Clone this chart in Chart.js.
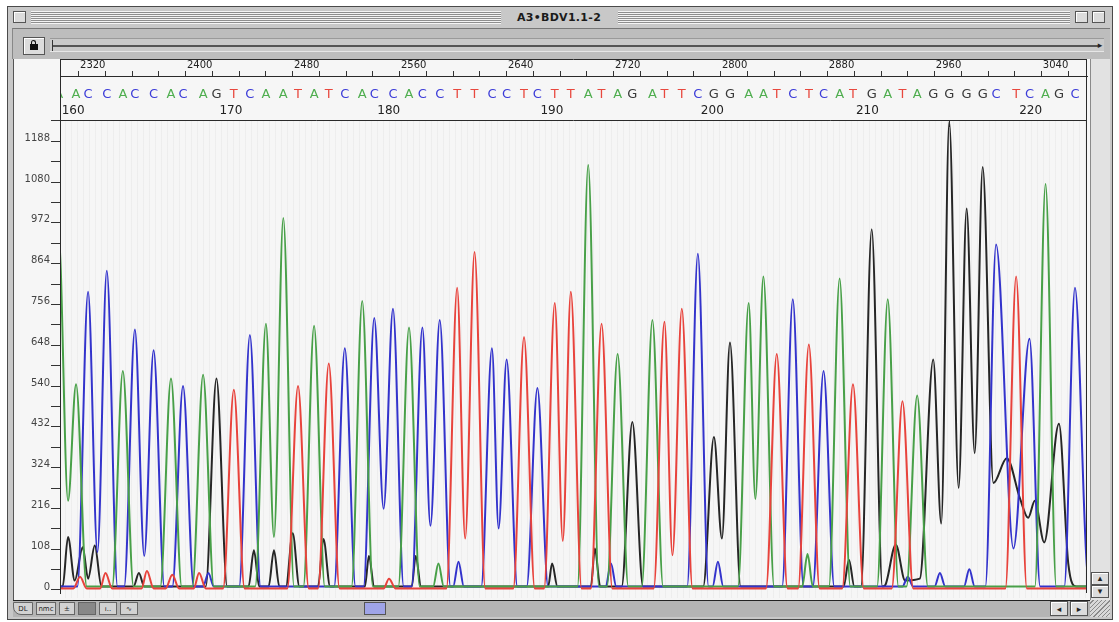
<!DOCTYPE html>
<html>
<head>
<meta charset="utf-8">
<title>A3•BDV1.1-2</title>
<script src="https://cdn.jsdelivr.net/npm/chart.js@4.4.1/dist/chart.umd.min.js"></script>
<style>
  html,body{margin:0;padding:0;width:1119px;height:622px;overflow:hidden;background:#fff;font-family:"DejaVu Sans",sans-serif}
  .abs{position:absolute;box-sizing:border-box}
  #win{left:7px;top:6px;width:1106px;height:614px;background:#c8c8c8;border:1px solid #4a4a4a}
  .stripes{background:repeating-linear-gradient(to bottom,#f4f4f4 0 1px,#8e8e8e 1px 2px)}
  .box{background:#dcdcdc;border:1px solid #555;box-shadow:inset 1px 1px 0 #fff}
  #title{left:502px;top:9px;width:114px;text-align:center;font:bold 11px "DejaVu Sans",sans-serif;color:#1a1a1a;line-height:17px;letter-spacing:0.3px}
  #toolbar{left:12px;top:28px;width:1098px;height:31px;background:#bdbdbd;border-top:1px solid #777;border-left:1px solid #888}
  #lock{left:23px;top:37px;width:22px;height:18px}
  #track{left:50px;top:38px;width:1054px;height:14px;background:#c9c9c9;border-top:1px solid #9a9a9a;border-bottom:1px solid #e6e6e6}
  #panel{left:13px;top:59px;width:1077px;height:541px;background:#f6f6f6;border-left:1px solid #555}
  #stripe{left:60px;top:120px;width:1027px;height:478px;background:repeating-linear-gradient(90deg,rgba(0,0,0,0) 0 5px,rgba(0,0,0,0.035) 5px 6px)}
  #vscroll{left:1090px;top:59px;width:20px;height:541px;background:#e2e2e2;border-left:1px solid #8a8a8a}
  #hscroll{left:13px;top:600px;width:1077px;height:17px;background:#b4b4b4;border-top:1px solid #222}
  .btn{height:13px;top:602px;background:#d2d2d2;border:1px solid #666;font:7px "DejaVu Sans",sans-serif;color:#222;text-align:center;line-height:12px}
  .arr{font:9px "DejaVu Sans",sans-serif;color:#222;text-align:center;line-height:14px}
  #chartWrap{left:14px;top:59px;width:1076px;height:541px}
</style>
</head>
<body>
<div id="win" class="abs"></div>
<div class="abs box" style="left:13px;top:11px;width:13px;height:12px"></div>
<div class="abs stripes" style="left:31px;top:11px;width:470px;height:13px"></div>
<div id="title" class="abs">A3•BDV1.1-2</div>
<div class="abs stripes" style="left:618px;top:11px;width:452px;height:13px"></div>
<div class="abs box" style="left:1075px;top:11px;width:13px;height:12px"></div>
<div class="abs box" style="left:1092px;top:11px;width:13px;height:12px"></div>

<div id="toolbar" class="abs"></div>
<div id="lock" class="abs box"></div>
<div class="abs" style="left:30px;top:44px;width:8px;height:6px;background:#111"></div>
<div class="abs" style="left:31px;top:40px;width:5px;height:5px;border:1px solid #111;border-bottom:none;border-radius:3px 3px 0 0"></div>
<div id="track" class="abs"></div>
<div class="abs" style="left:52px;top:45px;width:1046px;height:2px;background:#555"></div>
<div class="abs" style="left:52px;top:40px;width:1px;height:11px;background:#333"></div>
<div class="abs arr" style="left:1096px;top:38px;width:8px">▸</div>

<div id="panel" class="abs"></div>
<div id="stripe" class="abs"></div>
<div id="vscroll" class="abs"></div>
<div class="abs arr box" style="left:1091px;top:572px;width:18px;height:13px;line-height:11px">▴</div>
<div class="abs arr box" style="left:1091px;top:585px;width:18px;height:13px;line-height:11px">▾</div>

<div id="hscroll" class="abs"></div>
<div class="abs btn" style="left:13px;width:20px;border-radius:0 0 0 8px">DL</div>
<div class="abs btn" style="left:36px;width:20px">nmc</div>
<div class="abs btn" style="left:59px;width:16px">±</div>
<div class="abs btn" style="left:78px;width:18px;background:#888"></div>
<div class="abs btn" style="left:99px;width:18px">ı..</div>
<div class="abs btn" style="left:120px;width:18px">∿</div>
<div class="abs" style="left:364px;top:602px;width:22px;height:13px;background:#9fa4e8;border:1px solid #555"></div>
<div class="abs arr box" style="left:1050px;top:601px;width:18px;height:15px">◂</div>
<div class="abs arr box" style="left:1070px;top:601px;width:18px;height:15px">▸</div>
<div class="abs" style="left:1090px;top:600px;width:20px;height:17px;background:repeating-linear-gradient(135deg,#d8d8d8 0 2px,#8a8a8a 2px 3px)"></div>

<div id="chartWrap" class="abs"><canvas id="trace" width="1076" height="541"></canvas></div>

<script>
// Scan range and axis labels
const scanMin = 2286, scanMax = 3054;
const rulerLabels = [2320, 2400, 2480, 2560, 2640, 2720, 2800, 2880, 2960, 3040];
const rulerStep = 20;
const yLabels = [0, 108, 216, 324, 432, 540, 648, 756, 864, 972, 1080, 1188];
const yMinorStep = 54;

// Base calls, first one is base 160
const firstBase = 160;
const baseCalls = "AACCACCACAGTCAATATCACCACCTTCCTCTTATAGATTCGGAATCTCATGATAGGGGCTCAGC";
const baseScans = [
  2285, 2298, 2307, 2321, 2333, 2342, 2356, 2369, 2378, 2393,
  2403, 2416, 2428, 2440, 2453, 2464, 2476, 2487, 2499, 2512,
  2521, 2535, 2547, 2557, 2570, 2583, 2596, 2609, 2620, 2633,
  2643, 2656, 2668, 2681, 2691, 2703, 2714, 2729, 2738, 2751,
  2763, 2775, 2787, 2801, 2812, 2822, 2834, 2846, 2857, 2869,
  2879, 2893, 2905, 2916, 2927, 2939, 2951, 2964, 2976, 2986,
  3001, 3011, 3023, 3033, 3045
];
const cursorScan = 2951;

// Traces as [scan, signal]
const traceA = [
  [2278,420],[2285,940],[2292,236],[2298,545],[2306,9],
  [2325,9],[2333,580],[2341,9],
  [2361,9],[2369,560],[2377,9],
  [2385,9],[2393,570],[2401,9],
  [2432,9],[2440,705],[2446,140],[2453,985],[2461,9],
  [2468,9],[2476,700],[2484,9],
  [2504,9],[2512,765],[2520,9],
  [2539,9],[2547,695],[2555,9],
  [2565,9],[2569,70],[2573,9],
  [2673,9],[2681,1125],[2689,9],
  [2695,9],[2703,625],[2711,9],
  [2721,9],[2729,715],[2737,9],
  [2793,9],[2801,760],[2806,241],[2812,830],[2820,9],
  [2841,9],[2845,95],[2849,9],
  [2861,9],[2869,825],[2877,9],
  [2897,9],[2905,770],[2913,9],
  [2919,9],[2927,515],[2935,9],
  [3015,9],[3023,1075],[3031,9],
  [3060,9]
];
const traceC = [
  [2280,9],[2299,9],[2307,790],[2314,100],[2321,845],[2329,9],
  [2334,9],[2342,690],[2349,90],[2356,635],[2364,9],
  [2370,9],[2378,540],[2386,9],
  [2393,9],[2397,45],[2401,9],
  [2420,9],[2428,675],[2436,9],
  [2491,9],[2499,640],[2507,9],
  [2513,9],[2521,720],[2528,215],[2535,745],[2543,9],
  [2549,9],[2557,695],[2563,170],[2570,715],[2578,9],
  [2580,9],[2584,75],[2588,9],
  [2601,9],[2609,640],[2614,163],[2620,610],[2628,9],
  [2635,9],[2643,535],[2651,9],
  [2694,9],[2698,70],[2702,9],
  [2755,9],[2763,890],[2771,9],
  [2774,9],[2778,75],[2782,9],
  [2826,9],[2834,770],[2842,9],
  [2849,9],[2857,580],[2865,9],
  [2916,9],[2920,35],[2924,9],
  [2940,9],[2944,45],[2948,9],
  [2962,9],[2966,55],[2970,9],
  [2978,9],[2986,915],[2999,110],[3011,665],[3019,9],
  [3037,9],[3045,800],[3054,60],[3058,9]
];
const traceG = [
  [2280,9],[2288,9],[2292,140],[2297,25],[2303,113],[2307,30],[2312,118],[2317,9],
  [2341,9],[2345,45],[2349,9],
  [2395,9],[2403,560],[2411,9],
  [2427,9],[2431,105],[2435,9],
  [2442,9],[2446,105],[2450,9],
  [2455,9],[2460,150],[2465,9],
  [2479,9],[2483,135],[2488,9],
  [2514,9],[2517,90],[2521,9],
  [2549,9],[2552,90],[2556,9],
  [2651,9],[2654,70],[2658,9],
  [2683,9],[2686,110],[2690,9],
  [2706,9],[2714,445],[2722,9],
  [2767,9],[2775,405],[2781,136],[2787,655],[2795,9],
  [2872,9],[2876,80],[2880,9],
  [2885,9],[2893,955],[2901,9],
  [2903,12],[2911,120],[2918,25],
  [2929,30],[2939,610],[2945,176],[2951,1240],[2958,270],[2964,1010],[2970,362],[2976,1120],
  [2984,283],[2994,349],[3004,241],[3010,191],[3015,236],[3022,126],[3033,440],[3040,70],[3046,9],
  [3060,9]
];
const traceT = [
  [2280,4],[2296,4],[2301,35],[2306,4],[2316,4],[2320,45],[2325,4],
  [2347,4],[2351,50],[2356,4],[2365,4],[2370,40],[2375,4],[2386,4],[2390,45],[2395,4],
  [2408,4],[2416,530],[2424,4],
  [2456,4],[2464,540],[2472,4],
  [2479,4],[2487,600],[2495,4],
  [2528,4],[2532,30],[2537,4],
  [2575,4],[2583,800],[2589,136],[2596,895],[2604,4],
  [2625,4],[2633,670],[2641,4],
  [2648,4],[2656,760],[2662,130],[2668,790],[2676,4],
  [2683,4],[2691,705],[2699,4],
  [2730,4],[2738,710],[2744,92],[2751,745],[2759,4],
  [2814,4],[2822,625],[2830,4],
  [2838,4],[2846,650],[2854,4],
  [2871,4],[2879,545],[2887,4],
  [2908,4],[2916,500],[2924,4],
  [2993,4],[3001,830],[3009,4],
  [3060,4]
];

const traceColors = { A: "#48a048", C: "#3333cc", G: "#262626", T: "#e8433c" };
const letterColors = { A: "#4fae4f", C: "#3b3bd8", G: "#3a3a3a", T: "#e8483e" };
const seqRowHeight = 44;
const uiFont = '"DejaVu Sans", sans-serif';

const seqRow = {
  id: "seqRow",
  afterDraw(chart) {
    const { ctx, chartArea: ca, scales: { x } } = chart;
    ctx.save();
    ctx.fillStyle = "#f6f6f6";
    ctx.fillRect(ca.left + 1, ca.top + 1, ca.right - ca.left - 2, seqRowHeight - 1);
    ctx.beginPath();
    ctx.rect(ca.left + 1, ca.top, ca.right - ca.left - 2, seqRowHeight);
    ctx.clip();
    ctx.font = "13px " + uiFont;
    ctx.textAlign = "center";
    ctx.textBaseline = "middle";
    [...baseCalls].forEach((b, i) => {
      ctx.fillStyle = letterColors[b];
      ctx.fillText(b, x.getPixelForValue(baseScans[i]), ca.top + 19);
    });
    ctx.font = "12px " + uiFont;
    ctx.textAlign = "left";
    ctx.fillStyle = "#222";
    baseScans.forEach((s, i) => {
      const n = firstBase + i;
      if (n % 10 === 0) ctx.fillText(String(n), x.getPixelForValue(s) + 3, ca.top + 35);
    });
    ctx.restore();

    // frame + separator + cursor
    ctx.save();
    ctx.strokeStyle = "#2a2a2a";
    ctx.lineWidth = 1;
    ctx.beginPath();
    ctx.moveTo(ca.left + 0.5, 0.5); ctx.lineTo(ca.right - 0.5, 0.5);
    ctx.moveTo(ca.left + 0.5, 0); ctx.lineTo(ca.left + 0.5, ca.bottom);
    ctx.moveTo(ca.right - 0.5, 0); ctx.lineTo(ca.right - 0.5, ca.bottom);
    ctx.moveTo(ca.left, ca.top + seqRowHeight + 0.5); ctx.lineTo(ca.right, ca.top + seqRowHeight + 0.5);
    const cx = Math.round(x.getPixelForValue(cursorScan)) + 0.5;
    ctx.moveTo(cx, ca.top + seqRowHeight); ctx.lineTo(cx, ca.top + seqRowHeight + 7);
    ctx.stroke();
    ctx.restore();
  }
};

const mkSet = (label, pts) => ({
  label,
  data: pts.map(([x, y]) => ({ x, y })),
  borderColor: traceColors[label],
  borderWidth: 2,
  pointRadius: 0,
  fill: false,
  cubicInterpolationMode: "monotone"
});

new Chart(document.getElementById("trace"), {
  type: "line",
  data: { datasets: [mkSet("T", traceT), mkSet("A", traceA), mkSet("C", traceC), mkSet("G", traceG)] },
  options: {
    responsive: false,
    animation: false,
    parsing: false,
    layout: { padding: { left: 0, right: 3, top: 0, bottom: 2 } },
    plugins: { legend: { display: false }, tooltip: { enabled: false } },
    scales: {
      x: {
        type: "linear", position: "top", min: scanMin, max: scanMax,
        afterBuildTicks: s => {
          const t = [];
          for (let v = rulerLabels[0] - rulerStep; v <= scanMax; v += rulerStep) if (v >= scanMin) t.push({ value: v });
          s.ticks = t;
        },
        afterFit: s => { s.height = 17; },
        ticks: {
          align: "end", maxRotation: 0, autoSkip: false, padding: 0,
          font: { size: 10, family: uiFont }, color: "#222",
          callback: v => rulerLabels.includes(v) ? String(v) : ""
        },
        grid: { drawOnChartArea: false, drawTicks: true, tickLength: 5, color: "#333", tickColor: "#333" },
        border: { display: true, color: "#2a2a2a" }
      },
      y: {
        min: -8, max: 1361,
        afterBuildTicks: s => {
          const t = [];
          yLabels.forEach(v => { t.push({ value: v }); t.push({ value: v + yMinorStep }); });
          s.ticks = t;
        },
        afterFit: s => { s.width = 46; },
        ticks: {
          padding: 1, labelOffset: -3, font: { size: 10, family: uiFont }, color: "#444",
          callback: v => yLabels.includes(v) ? String(v) : ""
        },
        grid: { drawOnChartArea: false, drawTicks: true, tickLength: 9, color: "#333", tickColor: "#333" },
        border: { display: true, color: "#2a2a2a" }
      }
    }
  },
  plugins: [seqRow]
});
</script>
</body>
</html>
